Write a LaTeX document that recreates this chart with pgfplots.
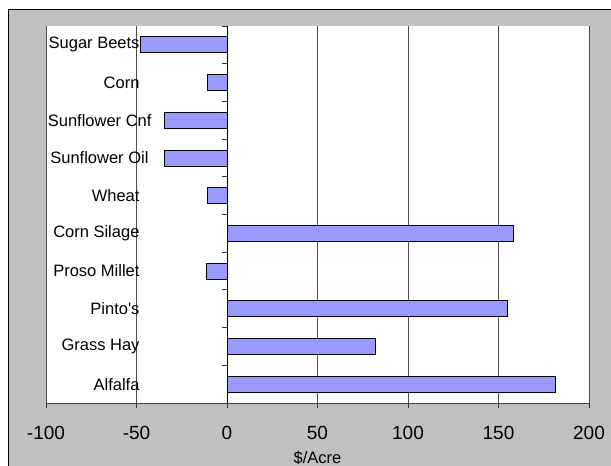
\documentclass[border=0pt]{standalone}
\usepackage{fontspec}
\setmainfont{Liberation Sans}
\usepackage{pgfplots}
\pgfplotsset{compat=1.18}
\definecolor{barblue}{HTML}{9999FF}
\definecolor{chartgrey}{HTML}{C0C0C0}
\begin{document}
\begin{tikzpicture}[x=1pt,y=1pt]
  \useasboundingbox (0,0) rectangle (611,466);
  % chart area background with its frame
  \fill[chartgrey] (8,0) rectangle (611,456);
  \draw[black, line width=1pt] (8,0) -- (8,456) -- (611,456);
  % plot area
  \fill[white] (46,63) rectangle (589,440);
  \begin{axis}[
    at={(46pt,63pt)}, anchor=south west,
    scale only axis, width=543pt, height=377pt,
    xmin=-100, xmax=200, ymin=-0.5, ymax=9.5,
    axis x line=bottom, axis y line=middle,
    x axis line style={-, black!75, line width=0.9pt},
    y axis line style={-, black, line width=0.8pt},
    xtick={-100,-50,0,50,100,150,200},
    xmajorgrids,
    grid style={black!70, line width=0.9pt},
    xtick align=outside,
    x tick style={black!80, line width=0.8pt},
    major tick length=5pt,
    ytick={0.5,1.5,...,9.5},
    yticklabels={},
    ytick align=outside,
    y tick style={black!80, line width=0.8pt},
    extra y ticks={0,1,2,3,4,5,6,7,8,9},
    extra y tick labels={Alfalfa,Grass Hay,Pinto\textquotesingle s,Proso Millet,Corn Silage,Wheat,{Sunflower Oil\hspace*{-9pt}},{Sunflower Cnf\hspace*{-12pt}},Corn,Sugar Beets},
    extra y tick style={major tick length=0pt, grid=none,
      yticklabel style={anchor=east, xshift=-84pt, font=\fontsize{16.5}{18}\selectfont}},
    /pgf/number format/assume math mode=true,
    xticklabel style={font=\fontsize{19}{21}\selectfont, anchor=center, yshift=-25pt},
    xlabel={\$/Acre},
    xlabel style={font=\fontsize{16.5}{18}\selectfont, at={(axis description cs:0.5,0)}, anchor=center, yshift=-55pt},
    xbar, bar width=16pt,
    clip=false,
  ]
    \addplot[draw=black, fill=barblue, line width=0.8pt] coordinates {
      (181.7,0) (82,1) (155,2) (-11.4,3) (158.3,4)
      (-10.7,5) (-34.5,6) (-34.5,7) (-10.7,8) (-47.9,9)
    };
  \end{axis}
\end{tikzpicture}
\end{document}
